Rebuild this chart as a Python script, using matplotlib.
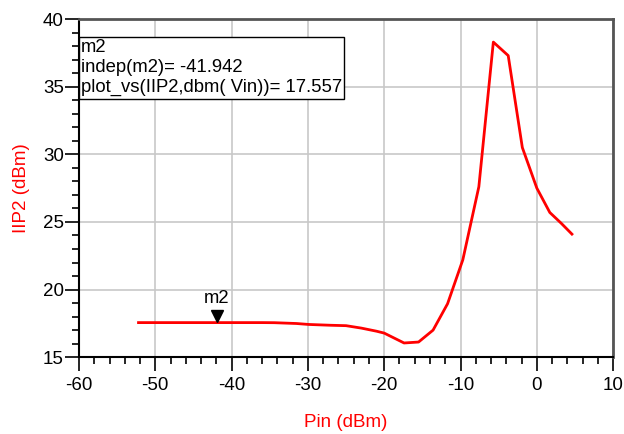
import matplotlib
matplotlib.use("Agg")
import matplotlib.pyplot as plt
from matplotlib.ticker import MultipleLocator
import matplotlib.transforms as mtransforms

plt.rcParams['font.family'] = ['Liberation Sans', 'DejaVu Sans']
plt.rcParams['axes.unicode_minus'] = False

# data
pin = [-52.2, -48.0, -44.0, -40.0, -36.0, -34.4, -31.5, -29.9, -27.0, -25.0,
       -23.0, -21.0, -20.0, -17.4, -15.5, -13.6, -11.7, -9.7, -7.6, -5.7,
       -3.75, -1.9, 0.0, 1.7, 3.2, 4.6]
iip2 = [17.557, 17.557, 17.557, 17.557, 17.557, 17.55, 17.49, 17.42, 17.36, 17.33,
        17.15, 16.92, 16.78, 16.05, 16.12, 17.0, 18.95, 22.2, 27.6, 38.3,
        37.3, 30.5, 27.5, 25.7, 24.9, 24.1]

marker_x = -41.942
marker_y = 17.557
box_lines = ["m2", "indep(m2)= -41.942", "plot_vs(IIP2,dbm( Vin))= 17.557"]

fig = plt.figure(figsize=(6.24, 4.34), dpi=100)
ax = fig.add_axes([0.1266, 0.177, 0.856, 0.779])

ax.plot(pin, iip2, color='#ff0000', linewidth=2)

# marker triangle, tip touching the curve
off = mtransforms.offset_copy(ax.transData, fig=fig, x=0, y=5, units='points')
ax.plot([marker_x], [marker_y], marker='v', color='black', markersize=9,
        linestyle='none', transform=off)
ax.annotate("m2", (marker_x, marker_y), xytext=(0, 11), textcoords='offset points',
            ha='center', va='bottom', fontsize=13.3)

ax.set_xlim(-60, 10)
ax.set_ylim(15, 40)
ax.xaxis.set_major_locator(MultipleLocator(10))
ax.xaxis.set_minor_locator(MultipleLocator(2))
ax.yaxis.set_major_locator(MultipleLocator(5))
ax.yaxis.set_minor_locator(MultipleLocator(1))
ax.tick_params(which='major', direction='out', length=10, width=1.2, labelsize=13.5, pad=1)
ax.tick_params(axis='x', which='major', pad=4)
ax.tick_params(which='minor', direction='out', length=5, width=1.2)
ax.grid(True, which='major', color='#c8c8c8', linewidth=1.2)

for side in ['left', 'bottom']:
    ax.spines[side].set_color('black')
    ax.spines[side].set_linewidth(1.5)
for side in ['top', 'right']:
    ax.spines[side].set_color('#555555')
    ax.spines[side].set_linewidth(2)

ax.set_xlabel("Pin (dBm)", color='#ff0000', fontsize=13.5, labelpad=15)
ax.set_ylabel("IIP2 (dBm)", color='#ff0000', fontsize=13.5, labelpad=9)

# marker readout box
ax.text(0.004, 0.94, "\n".join(box_lines), transform=ax.transAxes, ha='left', va='top',
        fontsize=13.3, linespacing=1.22,
        bbox=dict(boxstyle='square,pad=0.12', facecolor='white', edgecolor='black', linewidth=1))

fig.savefig("out.png", dpi=100)
